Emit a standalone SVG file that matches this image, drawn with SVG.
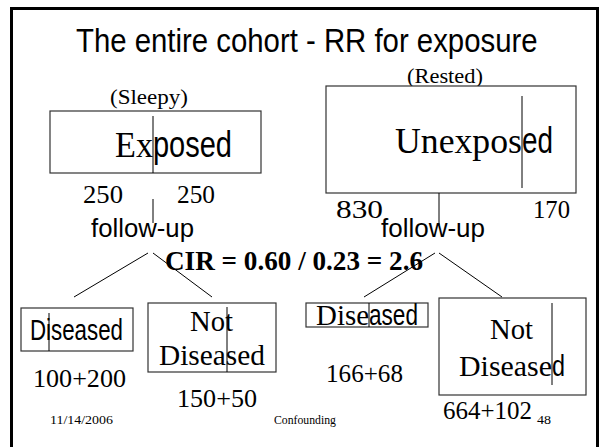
<svg xmlns="http://www.w3.org/2000/svg" width="600" height="447" viewBox="0 0 600 447">
  <style>
    .frame { fill: none; stroke: #000; stroke-width: 3; }
    .box { fill: #fff; stroke: #333; stroke-width: 1.2; }
    .edge { fill: none; stroke: #000; stroke-width: 1; }
    .sans { font-family: "Liberation Sans Narrow", "Liberation Sans", Arial, sans-serif; fill: #000; }
    .serif { font-family: "Liberation Serif", "Times New Roman", serif; fill: #000; }
    .bold { font-weight: bold; }
  </style>

  <rect width="600" height="447" fill="#fff"/>
  <!-- slide frame (open at the bottom) -->
  <path class="frame" d="M11.5,450 V8.5 H597.5 V450"/>

  <!-- title, condensed horizontally -->
  <g id="title" transform="translate(76,52) scale(0.785,1)">
    <text class="sans" x="0" y="0" font-size="34" textLength="588" lengthAdjust="spacingAndGlyphs">The entire cohort - RR for exposure</text>
  </g>

  <!-- exposed cohort -->
  <g id="exposed">
    <text class="serif" x="110" y="104" font-size="21" textLength="78" lengthAdjust="spacingAndGlyphs">(Sleepy)</text>
    <rect class="box" x="50" y="111" width="211" height="62"/>
    <text x="115" y="157" font-size="36"><tspan class="serif" textLength="38" lengthAdjust="spacingAndGlyphs">Ex</tspan><tspan class="sans" x="153" textLength="79" lengthAdjust="spacingAndGlyphs">posed</tspan></text>
    <line class="edge" x1="153" y1="116" x2="153" y2="173"/>
    <text class="serif" x="83" y="203" font-size="25" textLength="40" lengthAdjust="spacingAndGlyphs">250</text>
    <text class="serif" x="177" y="203" font-size="25" textLength="38" lengthAdjust="spacingAndGlyphs">250</text>
    <text class="sans" x="91" y="237" font-size="25" textLength="103" lengthAdjust="spacingAndGlyphs">follow-up</text>
  </g>

  <!-- unexposed cohort -->
  <g id="unexposed">
    <text class="serif" x="407" y="83" font-size="21" textLength="76" lengthAdjust="spacingAndGlyphs">(Rested)</text>
    <rect class="box" x="326" y="86" width="250" height="107"/>
    <text x="395" y="153" font-size="36"><tspan class="serif" textLength="127" lengthAdjust="spacingAndGlyphs">Unexpos</tspan><tspan class="sans" x="522" textLength="31" lengthAdjust="spacingAndGlyphs">ed</tspan></text>
    <line class="edge" x1="522" y1="96" x2="522" y2="188"/>
    <text class="serif" x="336" y="218" font-size="25" textLength="47" lengthAdjust="spacingAndGlyphs">830</text>
    <text class="serif" x="533" y="218" font-size="25" textLength="37" lengthAdjust="spacingAndGlyphs">170</text>
    <text class="sans" x="381" y="237" font-size="25" textLength="104" lengthAdjust="spacingAndGlyphs">follow-up</text>
  </g>

  <!-- ratio -->
  <text id="cir" class="serif bold" x="165" y="270" font-size="27" textLength="258" lengthAdjust="spacingAndGlyphs">CIR = 0.60 / 0.23 = 2.6</text>

  <!-- exposed outcomes -->
  <g id="exposed-diseased">
    <rect class="box" x="21" y="308" width="112" height="43"/>
    <text class="sans" x="30" y="340" font-size="29" textLength="93" lengthAdjust="spacingAndGlyphs">Diseased</text>
    <line class="edge" x1="49" y1="313" x2="49" y2="351"/>
    <text class="serif" x="33" y="387" font-size="26" textLength="93" lengthAdjust="spacingAndGlyphs">100+200</text>
  </g>
  <g id="exposed-not-diseased">
    <rect class="box" x="148" y="303" width="128" height="69"/>
    <text class="serif" x="190" y="331" font-size="29" textLength="43" lengthAdjust="spacingAndGlyphs">Not</text>
    <text class="serif" x="159" y="365" font-size="29" textLength="106" lengthAdjust="spacingAndGlyphs">Diseased</text>
    <line class="edge" x1="227" y1="307" x2="227" y2="372"/>
    <text class="serif" x="177" y="407" font-size="26" textLength="80" lengthAdjust="spacingAndGlyphs">150+50</text>
  </g>

  <!-- unexposed outcomes -->
  <g id="unexposed-diseased">
    <rect class="box" x="306" y="303" width="122" height="24"/>
    <text x="316" y="325" font-size="29"><tspan class="serif" textLength="53" lengthAdjust="spacingAndGlyphs">Dise</tspan><tspan class="sans" x="369" textLength="49" lengthAdjust="spacingAndGlyphs">ased</tspan></text>
    <line class="edge" x1="369" y1="303" x2="369" y2="327"/>
    <text class="serif" x="326" y="382" font-size="25" textLength="77" lengthAdjust="spacingAndGlyphs">166+68</text>
  </g>
  <g id="unexposed-not-diseased">
    <rect class="box" x="439" y="298" width="147" height="97"/>
    <text class="serif" x="490" y="339" font-size="29" textLength="43" lengthAdjust="spacingAndGlyphs">Not</text>
    <text x="459" y="376" font-size="29"><tspan class="serif" textLength="93" lengthAdjust="spacingAndGlyphs">Disease</tspan><tspan class="sans" x="552" textLength="13" lengthAdjust="spacingAndGlyphs">d</tspan></text>
    <line class="edge" x1="552" y1="303" x2="552" y2="385"/>
    <text class="serif" x="443" y="419" font-size="25" textLength="89" lengthAdjust="spacingAndGlyphs">664+102</text>
  </g>

  <!-- connectors -->
  <g id="connectors">
    <line class="edge" x1="153" y1="199" x2="153" y2="223"/>
    <line class="edge" x1="148" y1="253" x2="74" y2="297"/>
    <line class="edge" x1="153" y1="253" x2="212" y2="297"/>
    <line class="edge" x1="439" y1="193" x2="439" y2="225"/>
    <line class="edge" x1="435" y1="253" x2="364" y2="297"/>
    <line class="edge" x1="439" y1="253" x2="502" y2="297"/>
  </g>

  <!-- footer -->
  <g id="footer">
    <text class="serif" x="50" y="424" font-size="13" textLength="63" lengthAdjust="spacingAndGlyphs">11/14/2006</text>
    <text class="serif" x="274" y="424" font-size="12" textLength="62" lengthAdjust="spacingAndGlyphs">Confounding</text>
    <text class="serif" x="537" y="424" font-size="13" textLength="14" lengthAdjust="spacingAndGlyphs">48</text>
  </g>
</svg>
